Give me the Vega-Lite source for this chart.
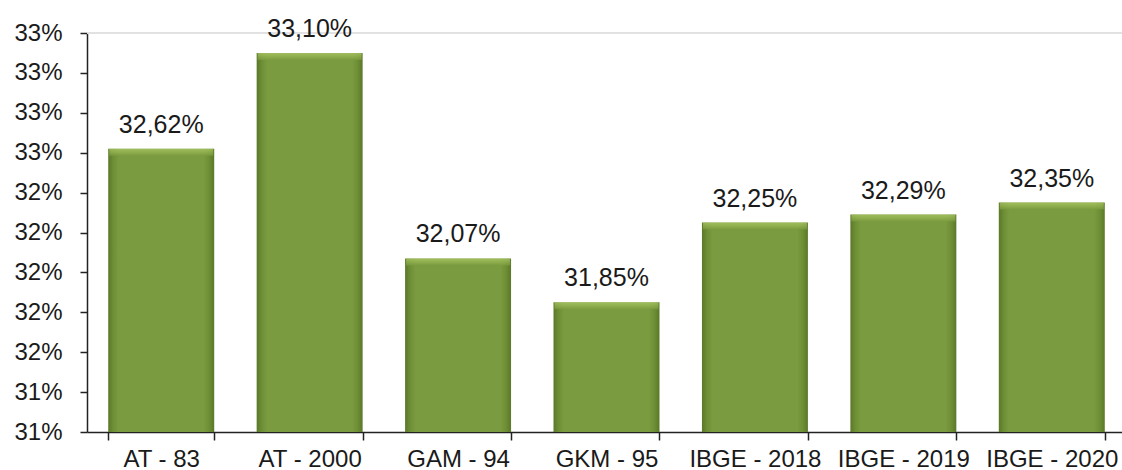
{
  "$schema": "https://vega.github.io/schema/vega-lite/v6.json",
  "autosize": {"type": "none"},
  "padding": {"left": 87, "top": 33, "right": 0, "bottom": 38},
  "width": 1039,
  "height": 399,
  "background": "white",
  "config": {
    "view": {"stroke": null},
    "locale": {"number": {"decimal": ",", "thousands": ".", "grouping": [3], "currency": ["R$", ""]}},
    "font": "Liberation Sans",
    "axis": {"labelFont": "Liberation Sans", "labelFontSize": 24, "labelColor": "#1a1a1a", "tickColor": "#222", "domainColor": "#222", "domainWidth": 1.5, "tickWidth": 1.5, "grid": false, "title": null}
  },
  "data": {
    "values": [
      {"cat": "AT - 83", "val": 0.3262},
      {"cat": "AT - 2000", "val": 0.3310},
      {"cat": "GAM - 94", "val": 0.3207},
      {"cat": "GKM - 95", "val": 0.3185},
      {"cat": "IBGE - 2018", "val": 0.3225},
      {"cat": "IBGE - 2019", "val": 0.3229},
      {"cat": "IBGE - 2020", "val": 0.3235}
    ]
  },
  "encoding": {
    "x": {
      "field": "cat", "type": "nominal", "sort": null,
      "scale": {"paddingInner": 0.286, "paddingOuter": 0.143},
      "axis": {"labelAngle": 0, "tickBand": "extent", "labelPadding": 7, "tickSize": 8}
    },
    "y": {
      "field": "val", "type": "quantitative",
      "scale": {"domain": [0.312, 0.332], "nice": false, "zero": false},
      "axis": {
        "format": ".0%", "labelOverlap": false,
        "values": [0.312, 0.314, 0.316, 0.318, 0.32, 0.322, 0.324, 0.326, 0.328, 0.33, 0.332],
        "labelPadding": 18, "tickSize": 7
      }
    }
  },
  "layer": [
    {
      "mark": {"type": "rule", "color": "#e2e2e2", "strokeWidth": 2},
      "encoding": {"y": {"datum": 0.332, "type": "quantitative", "axis": {
        "format": ".0%", "labelOverlap": false,
        "values": [0.312, 0.314, 0.316, 0.318, 0.32, 0.322, 0.324, 0.326, 0.328, 0.33, 0.332],
        "labelPadding": 18, "tickSize": 7
      }}, "x": null}
    },
    {
      "mark": {
        "type": "bar",
        "color": {
          "gradient": "linear", "x1": 0, "x2": 1, "y1": 0, "y2": 0,
          "stops": [
            {"offset": 0, "color": "#5a7829"},
            {"offset": 0.05, "color": "#6f8f36"},
            {"offset": 0.1, "color": "#7b9b40"},
            {"offset": 0.9, "color": "#7b9b40"},
            {"offset": 0.95, "color": "#6f8f36"},
            {"offset": 1, "color": "#5a7829"}
          ]
        }
      },
      "encoding": {"y2": {"datum": 0.312}}
    },
    {
      "mark": {
        "type": "tick", "thickness": 7, "size": 104, "yOffset": 3.5,
        "color": {
          "gradient": "linear", "x1": 0, "x2": 0, "y1": 0, "y2": 1,
          "stops": [
            {"offset": 0, "color": "#b0cc6c"},
            {"offset": 0.4, "color": "#9dbb57"},
            {"offset": 1, "color": "#7b9b40"}
          ]
        }
      },
      "encoding": {}
    },
    {
      "mark": {"type": "text", "font": "Liberation Sans", "fontSize": 25, "color": "#1a1a1a", "baseline": "alphabetic", "dy": -16},
      "encoding": {
        "text": {"field": "val", "type": "quantitative", "format": ".2%"}
      }
    }
  ]
}
